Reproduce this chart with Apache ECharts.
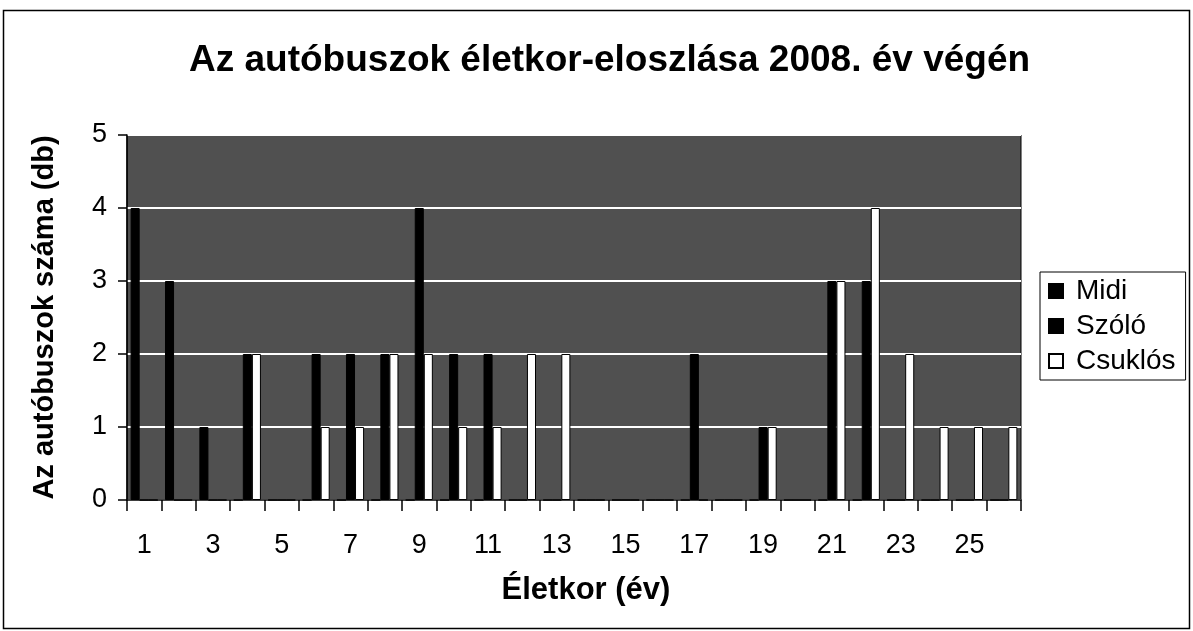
<!DOCTYPE html>
<html>
<head>
<meta charset="utf-8">
<script src="https://cdn.jsdelivr.net/npm/echarts@6/dist/echarts.min.js"></script>
<style>
html,body{margin:0;padding:0;background:#fff;}
#c{width:1193px;height:631px;}
</style>
</head>
<body>
<div id="c"></div>
<script>
const categories = ['1','2','3','4','5','6','7','8','9','10','11','12','13','14','15','16','17','18','19','20','21','22','23','24','25','26'];
const midi    = [4,3,1,0,0,0,0,0,0,0,0,0,0,0,0,0,0,0,0,0,0,0,0,0,0,0];
const szolo   = [0,0,0,2,0,2,2,2,4,2,2,0,0,0,0,0,2,0,1,0,3,3,0,0,0,0];
const csuklos = [0,0,0,2,0,1,1,2,2,1,1,2,2,0,0,0,0,0,1,0,3,4,2,1,1,1];
const yTicks = [0,1,2,3,4,5];

const FONT = "'Liberation Sans', Arial, sans-serif";
const chart = echarts.init(document.getElementById('c'), null, {renderer:'canvas'});
chart.setOption({
  animation:false,
  backgroundColor:'#fff',
  title:{
    text:'Az autóbuszok életkor-eloszlása 2008. év végén',
    left:184, top:37,
    textStyle:{fontFamily:FONT, fontWeight:'bold', fontSize:37, color:'#000'}
  },
  graphic:[{
    type:'rect', shape:{x:3.5,y:10.5,width:1186,height:618},
    style:{fill:'none', stroke:'#000', lineWidth:1.5}, silent:true, z:-1
  }],
  legend:{
    orient:'vertical', left:1040, top:272,
    data:['Midi','Szóló','Csuklós'],
    icon:'rect',
    itemWidth:14, itemHeight:14, itemGap:7,
    padding:[5,10,5,8],
    borderColor:'#000', borderWidth:1,
    textStyle:{fontFamily:FONT, fontSize:28, color:'#000', padding:[0,0,0,8]}
  },
  grid:{
    left:127, right:172, top:135, bottom:131,
    show:true, backgroundColor:'#505050', borderColor:'#000', borderWidth:1
  },
  xAxis:{
    type:'category', data:categories,
    name:'Életkor (év)', nameLocation:'middle', nameGap:75,
    nameTextStyle:{fontFamily:FONT, fontWeight:'bold', fontSize:31, color:'#000', padding:[0,0,0,24]},
    axisLine:{lineStyle:{color:'#000', width:1.5}},
    axisTick:{show:true, length:11, interval:0, lineStyle:{color:'#000', width:1.5}},
    axisLabel:{interval:1, margin:32, fontFamily:FONT, fontSize:27, color:'#000'}
  },
  yAxis:{
    type:'value', min:0, max:5, interval:1,
    name:'Az autóbuszok száma (db)', nameLocation:'middle', nameGap:68,
    nameTextStyle:{fontFamily:FONT, fontWeight:'bold', fontSize:29, color:'#000'},
    axisLine:{show:true, lineStyle:{color:'#000', width:1.5}},
    axisTick:{show:true, length:9, lineStyle:{color:'#000', width:1.5}},
    axisLabel:{margin:20, fontFamily:FONT, fontSize:27, color:'#000'},
    splitLine:{show:true, lineStyle:{color:'#fff', width:2}}
  },
  series:[
    {name:'Midi', type:'bar', data:midi, barGap:'0%', barCategoryGap:'21%',
     itemStyle:{color:'#000', borderColor:'#000', borderWidth:1}},
    {name:'Szóló', type:'bar', data:szolo, barGap:'0%', barCategoryGap:'21%',
     itemStyle:{color:'#000', borderColor:'#000', borderWidth:1}},
    {name:'Csuklós', type:'bar', data:csuklos, barGap:'0%', barCategoryGap:'21%',
     itemStyle:{color:'#fff', borderColor:'#000', borderWidth:1}}
  ]
});
</script>
</body>
</html>
